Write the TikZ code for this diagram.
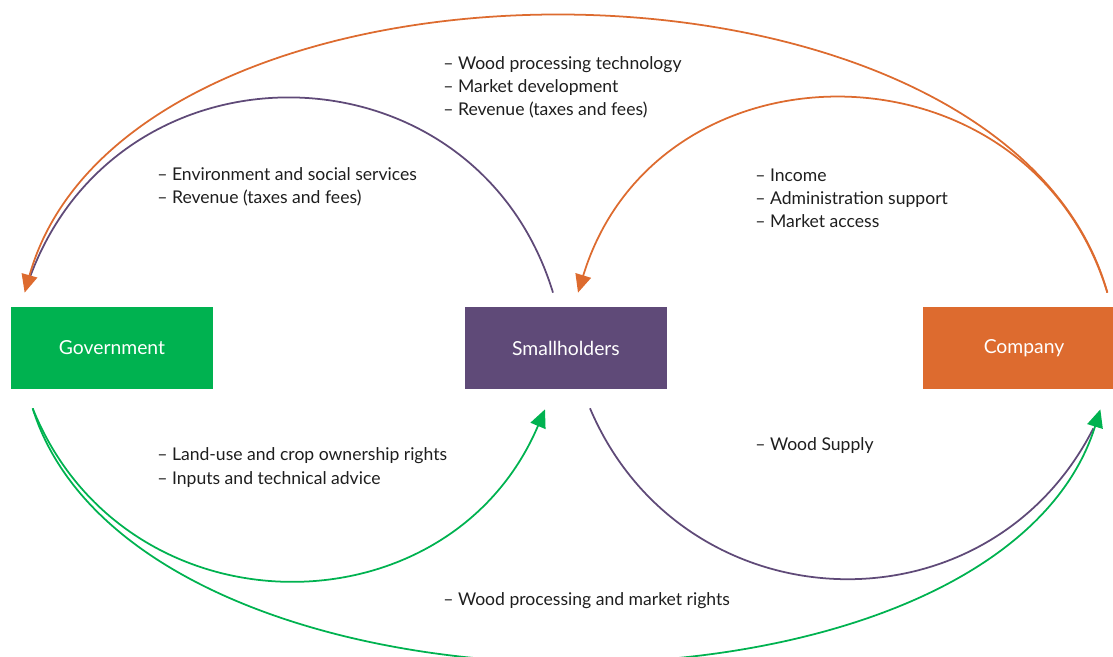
\documentclass[tikz,border=0pt]{standalone}
\usepackage{fontspec}
\setmainfont{Lato}
\usepackage{tikz}
\usetikzlibrary{positioning}
\usetikzlibrary{arrows.meta}

\definecolor{govgreen}{RGB}{0,178,80}
\definecolor{smallpurple}{RGB}{95,74,120}
\definecolor{comporange}{RGB}{221,107,47}
\definecolor{labeltext}{RGB}{30,30,30}

\begin{document}
\begin{tikzpicture}[
	box/.style={rectangle, minimum width=4.04cm, minimum height=1.64cm, inner sep=0pt, text=white, font=\fontsize{11}{12}\selectfont},
	lbl/.style={anchor=west, align=left, inner sep=0pt, text=labeltext, font=\fontsize{10}{13.2}\selectfont},
	flow/.style={line width=1pt},
	tip/.style={-{Triangle[length=0.36cm,width=0.32cm]}}
]
	\useasboundingbox (0,0) rectangle (22.26,13.14);

		\node[box, fill=govgreen](gov) at (2.24,6.18){Government};
		\node[box, fill=smallpurple](small) at (11.32,6.18){Smallholders};
		\node[box, fill=comporange](comp) at (20.48,6.18){Company};

		\node[lbl](woodtop) at (8.86,11.39){-- Wood processing technology\\-- Market development\\-- Revenue (taxes and fees)};
		\node[lbl](envserv) at (3.14,9.41){-- Environment and social services\\-- Revenue (taxes and fees)};
		\node[lbl](income) at (15.1,9.18){-- Income\\-- Administration support\\-- Market access};
		\node[lbl](landuse) at (3.14,3.79){-- Land-use and crop ownership rights\\-- Inputs and technical advice};
		\node[lbl](supply) at (15.1,4.22){-- Wood Supply};
		\node[lbl](rights) at (8.86,1.12){-- Wood processing and market rights};

		% purple flows from the smallholders
		\draw [flow, smallpurple] ([xshift=-0.26cm,yshift=0.28cm]small.north) to[out=107,in=71,looseness=1.3] ([xshift=0.34cm,yshift=0.46cm]gov.north west);
		\draw [flow, smallpurple] ([xshift=0.48cm,yshift=-0.38cm]small.south) to[out=-67,in=-117,looseness=1.2] ([xshift=-0.64cm,yshift=-0.78cm]comp.south east);

		% orange flows from the company
		\draw [flow, tip, comporange] ([xshift=-0.36cm,yshift=0.28cm]comp.north east) .. controls +(-2.07,7.36) and +(2.07,7.36) .. ([xshift=0.28cm,yshift=0.28cm]gov.north west);
		\draw [flow, tip, comporange] ([xshift=-0.36cm,yshift=0.28cm]comp.north east) to[out=107,in=73,looseness=1.31] ([xshift=0.24cm,yshift=0.28cm]small.north);

		% green flows from the government
		\draw [flow, tip, govgreen] ([xshift=0.44cm,yshift=-0.38cm]gov.south west) to[out=-68,in=-113,looseness=1.23] ([xshift=-0.42cm,yshift=-0.4cm]small.south);
		\draw [flow, tip, govgreen] ([xshift=0.44cm,yshift=-0.38cm]gov.south west) .. controls +(2.1,-6.72) and +(-2.1,-6.72) .. ([xshift=-0.5cm,yshift=-0.4cm]comp.south east);

\end{tikzpicture}
\end{document}
